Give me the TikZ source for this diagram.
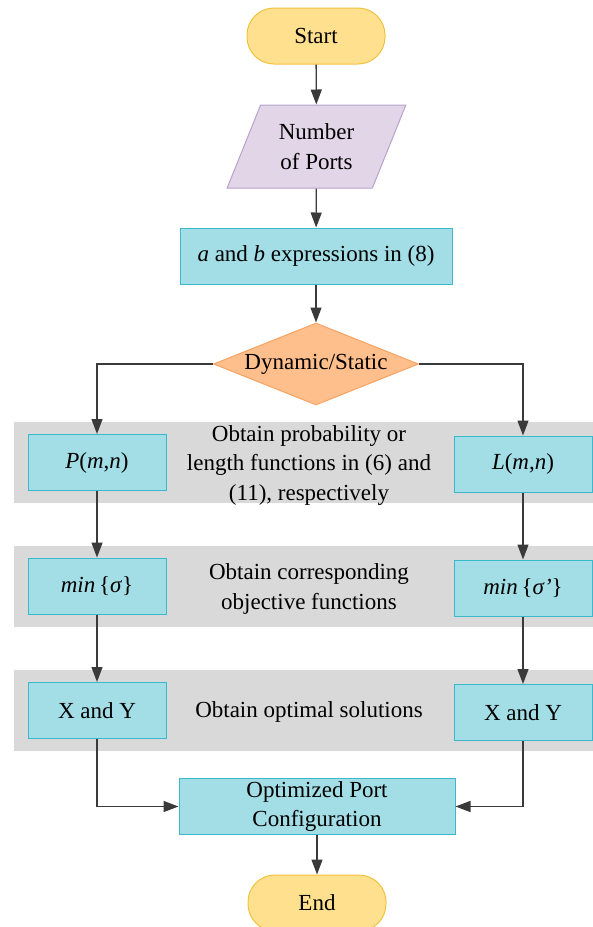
\documentclass[tikz,border=0pt]{standalone}
\usepackage{fontspec}
\setmainfont{Liberation Serif}
\usetikzlibrary{arrows.meta,shapes.geometric,positioning}
\definecolor{termfill}{HTML}{FFE08F}
\definecolor{termdraw}{HTML}{F2C23E}
\definecolor{iofill}{HTML}{E1D5E7}
\definecolor{iodraw}{HTML}{B8A3CC}
\definecolor{boxfill}{HTML}{A3DDE6}
\definecolor{boxdraw}{HTML}{3BB8CC}
\definecolor{decfill}{HTML}{FFBF8C}
\definecolor{decdraw}{HTML}{F5A362}
\definecolor{bandfill}{HTML}{D9D9D9}
\definecolor{linecol}{HTML}{3A3A3A}
\tikzset{
  x=1pt, y=-1pt,
  every node/.style={font=\fontsize{23}{29.5}\selectfont, align=center, text=black},
  term/.style={draw=termdraw, fill=termfill, line width=1pt, rounded corners=27pt, minimum width=138pt, minimum height=56pt, inner sep=0pt},
  iobox/.style={trapezium, trapezium left angle=63.7, trapezium right angle=116.3, trapezium stretches=true, draw=iodraw, fill=iofill, line width=1pt, minimum width=179pt, minimum height=83pt, inner sep=0pt},
  procbox/.style={draw=boxdraw, fill=boxfill, line width=1pt, minimum height=56pt, inner sep=0pt},
  sidebox/.style={procbox, minimum width=138pt},
  decbox/.style={diamond, aspect=2.5, draw=decdraw, fill=decfill, line width=1pt, minimum width=205pt, minimum height=82pt, inner sep=0pt},
  band/.style={fill=bandfill, draw=none, inner sep=0pt, minimum width=579pt, minimum height=81pt},
  bandtext/.style={fill=none, draw=none, inner sep=0pt},
  conn/.style={draw=linecol, line width=1.3pt, -{Triangle[length=15pt,width=11pt]}}
}
\begin{document}
\begin{tikzpicture}
\useasboundingbox (0,0) rectangle (593,927);
\clip (0,0) rectangle (593,927);
% bands
\node[band] (band1) at (303.5,462.5) {};
\node[band] (band2) at (303.5,586) {};
\node[band] (band3) at (303.5,710) {};
\node[bandtext] (t1) at (309,465) {Obtain probability or\\length functions in (6) and\\(11), respectively};
\node[bandtext] (t2) at (309,589) {Obtain corresponding\\objective functions};
\node[bandtext] (t3) at (309,712) {Obtain optimal solutions};
% nodes
\node[term] (start) at (316,36) {Start};
\node[iobox] (num) at (316.5,146.5) {Number\\of Ports};
\node[procbox, minimum width=272pt] (ab) at (316,256) {\textit{a} and \textit{b} expressions in (8)};
\node[decbox] (dec) at (316,364) {\makebox[0pt]{Dynamic/Static}};
\node[sidebox] (P) at (97,462.5) {\textit{P}(\textit{m},\textit{n})};
\node[sidebox] (L) at (523,464) {\textit{L}(\textit{m},\textit{n})};
\node[sidebox] (minL) at (97,586) {\textit{min}\,\{\textit{σ}\}};
\node[sidebox] (minR) at (523,588) {\textit{min}\,\{\textit{σ’}\}};
\node[sidebox] (xyL) at (97,710.5) {X and Y};
\node[sidebox] (xyR) at (523,712.5) {X and Y};
\node[procbox, minimum width=276pt] (opt) at (317,806.5) {Optimized Port\\Configuration};
\node[term] (end) at (317,903) {End};
% connectors
\draw[conn] (start) -- (num);
\draw[conn] (num) -- (ab);
\draw[conn] (ab) -- (dec);
\draw[conn] (dec.west) -| (P.north);
\draw[conn] (dec.east) -| (L.north);
\draw[conn] (P) -- (minL);
\draw[conn] (L) -- (minR);
\draw[conn] (minL) -- (xyL);
\draw[conn] (minR) -- (xyR);
\draw[conn] (xyL.south) |- (opt.west);
\draw[conn] (xyR.south) |- (opt.east);
\draw[conn] (opt) -- (end);
\end{tikzpicture}
\end{document}
